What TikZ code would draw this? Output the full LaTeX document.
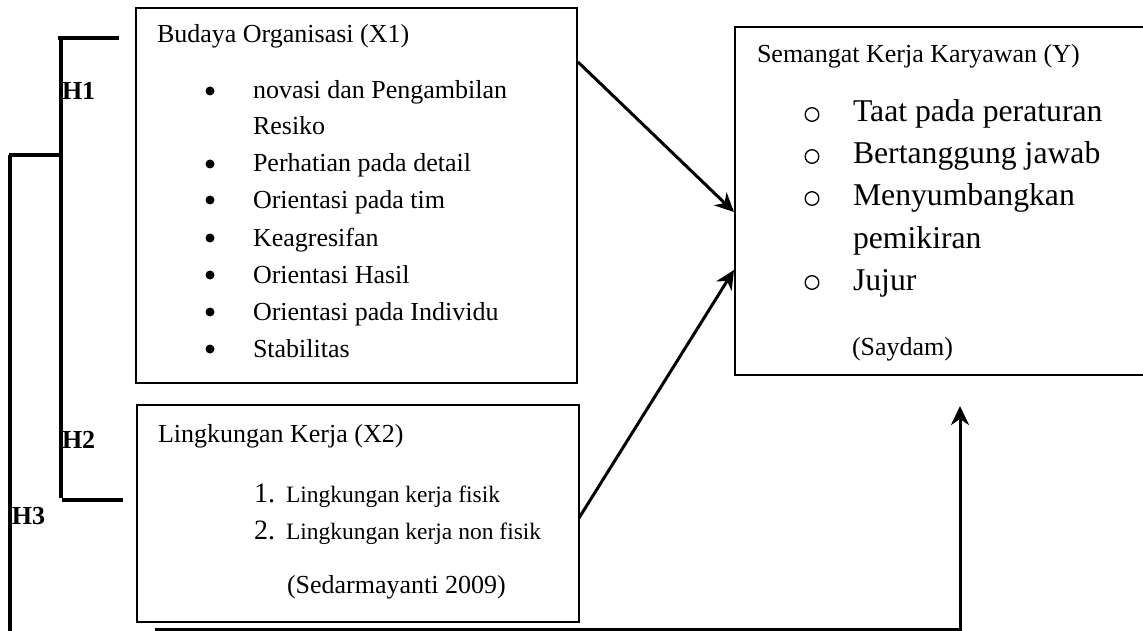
\documentclass[tikz,border=0pt]{standalone}
\usepackage{fontspec}
\setmainfont{Liberation Serif}
\usetikzlibrary{arrows.meta}
\begin{document}
\begin{tikzpicture}[x=1pt,y=-1pt,
  box/.style={draw,line width=2pt,rectangle,anchor=north west,inner sep=0pt,outer sep=0pt},
  txt/.style={anchor=base west,inner sep=0pt,outer sep=0pt},
  ttl/.style={txt,font=\fontsize{26}{30}\selectfont},
  itm/.style={txt,font=\fontsize{26}{30}\selectfont},
  itmb/.style={txt,font=\fontsize{23.5}{28}\selectfont},
  itmy/.style={txt,font=\fontsize{31.7}{36}\selectfont},
  num/.style={txt,font=\fontsize{28}{32}\selectfont},
  obul/.style={line width=1.3pt},
  hlab/.style={txt,font=\bfseries\fontsize{26}{30}\selectfont},
  brk/.style={line width=3.5pt},
  conn/.style={line width=3pt,-{Stealth[length=19pt,width=18pt,inset=6pt]}}
]
\useasboundingbox (0,0) rectangle (1143,631);
% boxes
\node[box,minimum width=441pt,minimum height=375pt] (X1) at (136,8) {};
\node[box,minimum width=442pt,minimum height=217pt] (X2) at (137,405) {};
\node[box,minimum width=415pt,minimum height=348pt] (Y) at (735,27) {};
% X1 text
\node[ttl] (x1t) at (157,43) {Budaya Organisasi (X1)};
\node[itm] (x1a) at (253,99) {novasi dan Pengambilan};
\node[itm] (x1a2) at (253,135) {Resiko};
\node[itm] (x1b) at (253,172) {Perhatian pada detail};
\node[itm] (x1c) at (253,208) {Orientasi pada tim};
\node[itm] (x1d) at (253,246) {Keagresifan};
\node[itm] (x1e) at (253,283) {Orientasi Hasil};
\node[itm] (x1f) at (253,320) {Orientasi pada Individu};
\node[itm] (x1g) at (253,357) {Stabilitas};
\foreach \yy in {99,172,208,246,283,320,357}
  \fill (210,\yy-8) circle (4.5pt);
% X2 text
\node[ttl] (x2t) at (158,442) {Lingkungan Kerja (X2)};
\node[num] (n1) at (254,502) {1.};
\node[num] (n2) at (254,539) {2.};
\node[itmb] (x2a) at (286,502) {Lingkungan kerja fisik};
\node[itmb] (x2b) at (286,539) {Lingkungan kerja non fisik};
\node[itm] (x2s) at (287,593) {(Sedarmayanti 2009)};
% Y text
\node[ttl] (yt) at (757,63) {Semangat Kerja Karyawan (Y)};
\foreach \yy in {122,164,206,290}
  \draw[obul] (812,\yy-7.5) circle (6.8pt);
\node[itmy] (ya) at (853,122) {Taat pada peraturan};
\node[itmy] (yb) at (853,164) {Bertanggung jawab};
\node[itmy] (yc) at (853,206) {Menyumbangkan};
\node[itmy] (yc2) at (853,248) {pemikiran};
\node[itmy] (yd) at (853,290) {Jujur};
\node[itm] (ys) at (852,355) {(Saydam)};
% hypothesis labels
\node[hlab] (h1) at (62,100) {H1};
\node[hlab] (h2) at (62,448) {H2};
\node[hlab] (h3) at (12,524) {H3};
% bracket coordinates
\coordinate (b1a) at (58,38);
\coordinate (b1b) at (119,38);
\coordinate (b1c) at (61,38);
\coordinate (b1d) at (61,498);
\coordinate (b2a) at (62,500);
\coordinate (b2b) at (123,500);
\coordinate (b3a) at (9,155);
\coordinate (b3b) at (61,155);
\coordinate (b3c) at (10,155);
\coordinate (b3d) at (10,631);
\draw[brk] (b1a) -- (b1b);
\draw[brk] (b1c) -- (b1d);
\draw[brk] (b2a) -- (b2b);
\draw[brk] (b3a) -- (b3b);
\draw[brk] (b3c) -- (b3d);
% connectors
\coordinate (s1) at (578,62);
\coordinate (e1) at (734,212);
\coordinate (s2) at (579,518);
\coordinate (e2) at (734,270);
\coordinate (s3) at (155,629);
\coordinate (c3) at (960,629);
\coordinate (e3) at (960,406);
\draw[conn] (s1) -- (e1);
\draw[conn] (s2) -- (e2);
\draw[conn] (s3) -- (c3) -- (e3);
\end{tikzpicture}
\end{document}
